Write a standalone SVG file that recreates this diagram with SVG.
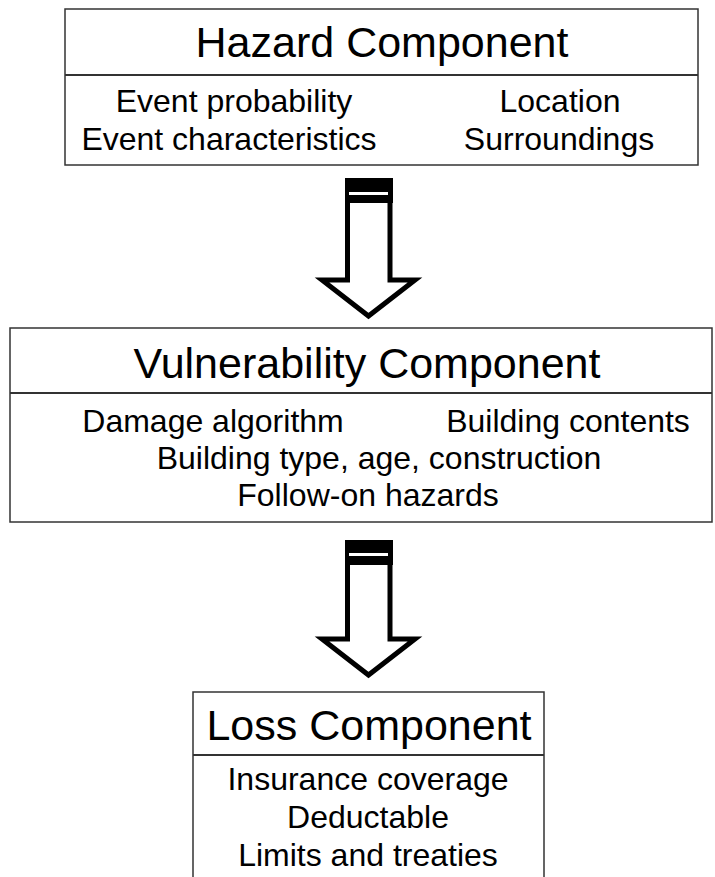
<svg xmlns="http://www.w3.org/2000/svg" width="715" height="877" viewBox="0 0 715 877">
<style>
  .box { fill: #fff; stroke: #333; stroke-width: 1.5; }
  .div { stroke: #333; stroke-width: 2; }
  .title { font-family: "Liberation Sans", Arial, sans-serif; font-size: 43px; fill: #000; text-anchor: middle; }
  .body { font-family: "Liberation Sans", Arial, sans-serif; font-size: 32px; fill: #000; text-anchor: middle; }
  .arrow { fill: #fff; stroke: #000; stroke-width: 5; stroke-linejoin: miter; }
</style>
<rect width="715" height="877" fill="#fff"/>
<g id="hazard">
  <rect class="box" x="65" y="9" width="633" height="156"/>
  <line class="div" x1="65" y1="75" x2="698" y2="75"/>
  <text class="title" x="382" y="57">Hazard Component</text>
  <text class="body" x="234" y="112">Event probability</text>
  <text class="body" x="229" y="150">Event characteristics</text>
  <text class="body" x="560" y="112">Location</text>
  <text class="body" x="559" y="150">Surroundings</text>
</g>
<g id="vulnerability">
  <rect class="box" x="10" y="328" width="702" height="194"/>
  <line class="div" x1="10" y1="393" x2="712" y2="393"/>
  <text class="title" x="367" y="378">Vulnerability Component</text>
  <text class="body" x="213" y="432">Damage algorithm</text>
  <text class="body" x="568" y="432">Building contents</text>
  <text class="body" x="379" y="469">Building type, age, construction</text>
  <text class="body" x="368" y="506">Follow-on hazards</text>
</g>
<g id="loss">
  <path class="box" d="M193,880 V692 H544 V880"/>
  <line class="div" x1="193" y1="755" x2="544" y2="755"/>
  <text class="title" x="369" y="740">Loss Component</text>
  <text class="body" x="368" y="790">Insurance coverage</text>
  <text class="body" x="368" y="828">Deductable</text>
  <text class="body" x="368" y="866">Limits and treaties</text>
</g>
<g id="connectors">
  <g id="arrow1">
    <path class="arrow" d="M347.5,190 V280 H322 L368.5,316 L415,280 H390 V190 Z"/>
    <rect x="345" y="178" width="48" height="25" fill="#000"/>
    <rect x="349" y="192" width="39" height="3" fill="#fff"/>
  </g>
  <g id="arrow2">
    <path class="arrow" d="M347.5,552 V639 H322 L368.5,675 L415,639 H390 V552 Z"/>
    <rect x="345" y="540" width="48" height="25" fill="#000"/>
    <rect x="349" y="553" width="39" height="3" fill="#fff"/>
  </g>
</g>
</svg>
